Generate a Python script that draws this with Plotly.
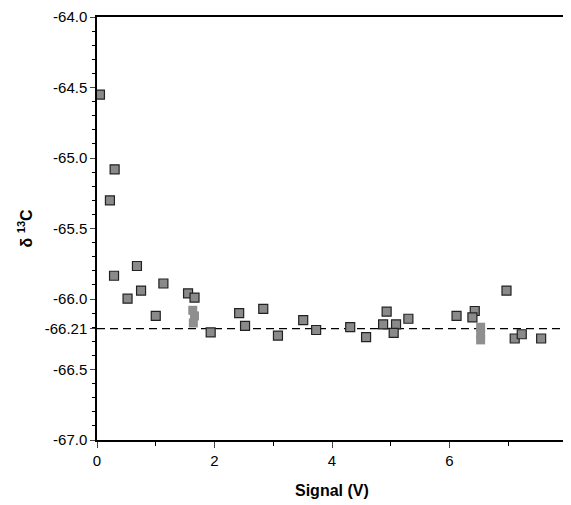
import plotly.graph_objects as go

# Data
dark_x = [0.05, 0.22, 0.30, 0.29, 0.68, 0.52, 0.75, 1.00, 1.13, 1.55, 1.66,
          1.935, 2.42, 2.52, 2.83, 3.08, 3.51, 3.73, 4.31, 4.58, 4.93, 4.87,
          5.09, 5.05, 5.30, 6.12, 6.43, 6.39, 6.97, 7.11, 7.23, 7.56]
dark_y = [-64.55, -65.30, -65.08, -65.835, -65.766, -65.998, -65.94, -66.12, -65.89, -65.96, -65.99,
          -66.236, -66.10, -66.19, -66.07, -66.26, -66.15, -66.22, -66.20, -66.27, -66.09, -66.18,
          -66.18, -66.24, -66.14, -66.12, -66.085, -66.13, -65.94, -66.28, -66.25, -66.28]
light_x = [1.63, 1.66, 1.64, 6.53, 6.53, 6.53]
light_y = [-66.08, -66.12, -66.17, -66.20, -66.25, -66.29]
mean_x = [0, 8]
mean_y = [-66.21, -66.21]
ytick_vals = [-64.0, -64.5, -65.0, -65.5, -66.0, -66.21, -66.5, -67.0]
ytick_text = ["-64.0", "-64.5", "-65.0", "-65.5", "-66.0", "-66.21", "-66.5", "-67.0"]
xtick_vals = [0, 2, 4, 6, 8]

fig = go.Figure()
fig.add_trace(go.Scatter(x=mean_x, y=mean_y, mode="lines",
                         line=dict(color="black", width=1.3, dash="8px,5px"),
                         showlegend=False, hoverinfo="skip"))
fig.add_trace(go.Scatter(x=light_x, y=light_y, mode="markers",
                         marker=dict(symbol="square", size=9, color="#8f8f8f",
                                     line=dict(width=0)),
                         showlegend=False))
fig.add_trace(go.Scatter(x=dark_x, y=dark_y, mode="markers",
                         marker=dict(symbol="square", size=9, color="#8a8a8a",
                                     line=dict(color="#222222", width=1.2)),
                         showlegend=False))

# page body has an 8px margin, so the figure is offset by (8, 8)
fig.update_layout(
    width=563, height=497,
    margin=dict(l=89, r=4, t=9, b=65),
    plot_bgcolor="white", paper_bgcolor="white",
    font=dict(family="Liberation Sans, Arial, sans-serif", size=15, color="black"),
    xaxis=dict(range=[0, 8], tickvals=xtick_vals, ticks="outside", ticklen=6,
               tickwidth=1.3, showgrid=False, zeroline=False, automargin=False,
               showline=True, linecolor="black", linewidth=1.5, mirror=True,
               minor=dict(dtick=1, ticks="outside", ticklen=4, tickcolor="black")),
    yaxis=dict(range=[-67.0, -64.0], tickvals=ytick_vals, ticktext=ytick_text,
               ticks="outside", ticklen=5, tickwidth=1.3, showgrid=False, zeroline=False,
               automargin=False,
               showline=True, linecolor="black", linewidth=1.5, mirror=True,
               minor=dict(dtick=0.1, tick0=-67.0, ticks="outside", ticklen=3, tickcolor="black")),
    annotations=[
        dict(text="<b>Signal (V)</b>", xref="paper", yref="paper", x=0.5, y=0,
             yshift=-50, xanchor="center", yanchor="middle", showarrow=False,
             font=dict(size=16)),
        dict(text="<b>δ <sup>13</sup>C</b>", xref="paper", yref="paper", x=0, y=0.5,
             xshift=-72, xanchor="center", yanchor="middle", showarrow=False,
             textangle=-90, font=dict(size=16)),
    ],
)

fig.write_html("out.html")
